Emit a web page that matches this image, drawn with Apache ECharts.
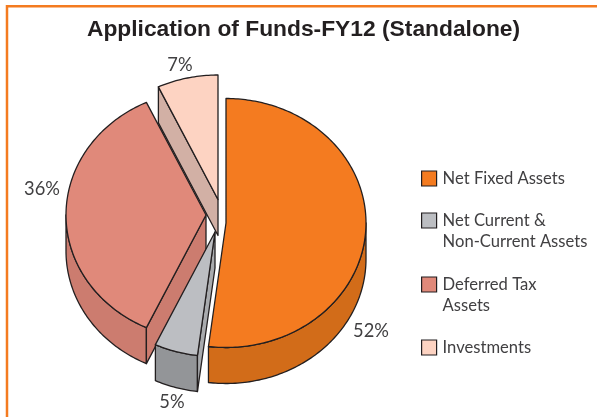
<!DOCTYPE html>
<html>
<head>
<meta charset="utf-8">
<style>html,body{margin:0;padding:0;background:#fff}#c{width:597px;height:417px}</style>
<script src="https://cdn.jsdelivr.net/npm/echarts@6/dist/echarts.min.js"></script>
</head>
<body>
<div id="c"></div>
<script>
const categories = ['Net Fixed Assets', 'Net Current &\nNon-Current Assets', 'Deferred Tax\nAssets', 'Investments'];
const shares = [52, 5, 36, 7];

const swatchTops = [171, 213, 277, 340];
const topColors = ['#f47b20', '#bcbec2', '#e0897a', '#fdd3c2'];
const wallColors = ['#d26c19', '#939598', '#cc7c6f', '#d2b0a5'];
const cutColors = ['#d26c19', '#a9abae', '#cc7c6f', '#d2b0a5'];
const apexes = [[226, 223], [215, 232], [206, 215], [218, 199.5]];
const labelSpots = [[371, 331], [172, 402], [42, 189], [180, 65]];
const drawOrder = [3, 2, 1, 0];
const RX = 140, RY = 124.5, DEPTH = 36, INK = '#231f20';
const LINE = 21, SWATCH = 15;

const total = shares.reduce((a, b) => a + b, 0);
const rad = d => d * Math.PI / 180;

function arcPoints(ax, ay, t0, t1, dy) {
  const pts = [];
  const n = Math.max(2, Math.ceil(Math.abs(t1 - t0)));
  for (let i = 0; i <= n; i++) {
    const t = rad(t0 + (t1 - t0) * i / n);
    pts.push([ax + RX * Math.sin(t), ay - RY * Math.cos(t) + dy]);
  }
  return pts;
}
function face(points, fill) {
  return {
    type: 'polygon',
    shape: { points },
    style: { fill, stroke: INK, lineWidth: 1.3, lineJoin: 'round' }
  };
}
function renderSlice(idx) {
  return function (params, api) {
    const value = api.value(0);
    let before = 0;
    for (let i = 0; i < idx; i++) before += shares[i];
    const t0 = before / total * 360;
    const t1 = t0 + value / total * 360;
    const [ax, ay] = apexes[idx];
    const children = [];

    // outer wall: only the front half of the rim faces the viewer
    const w0 = Math.max(t0, 90), w1 = Math.min(t1, 270);
    if (w1 > w0) {
      const upper = arcPoints(ax, ay, w0, w1, 0);
      const lower = arcPoints(ax, ay, w0, w1, DEPTH).reverse();
      children.push(face(upper.concat(lower), wallColors[idx]));
    }
    // cut faces that turn towards the viewer
    [[t0, Math.sin(rad(t0)) < -1e-6], [t1, Math.sin(rad(t1)) > 1e-6]].forEach(([t, show]) => {
      if (!show) return;
      const ex = ax + RX * Math.sin(rad(t)), ey = ay - RY * Math.cos(rad(t));
      children.push(face([[ax, ay], [ex, ey], [ex, ey + DEPTH], [ax, ay + DEPTH]], cutColors[idx]));
    });
    // top face
    children.push(face([[ax, ay]].concat(arcPoints(ax, ay, t0, t1, 0)), topColors[idx]));
    // percent label
    children.push({
      type: 'text',
      style: {
        x: labelSpots[idx][0], y: labelSpots[idx][1], text: value + '%',
        fill: '#414042', font: '18.3px Lato, "Open Sans", sans-serif',
        align: 'center', verticalAlign: 'middle'
      }
    });
    return { type: 'group', children };
  };
}

const chart = echarts.init(document.getElementById('c'), null, { renderer: 'canvas' });
chart.setOption({
  animation: false,
  backgroundColor: '#ffffff',
  title: {
    text: 'Application of Funds-FY12 (Standalone)',
    left: 303.5, top: 18, padding: 0, textAlign: 'center',
    textStyle: { fontFamily: '"Liberation Sans", Arial, sans-serif', fontWeight: 'bold', fontSize: 22.8, color: '#231f20' }
  },
  legend: categories.map((name, i) => {
    const multi = name.includes('\n');
    return {
      left: 421,
      // a two-line entry is centred on its swatch, so a blank first line puts the swatch beside line one
      top: swatchTops[i] - (multi ? (3 * LINE - SWATCH) / 2 : (LINE - SWATCH) / 2),
      data: [name],
      formatter: n => (multi ? '\n' + n : n),
      selectedMode: false,
      icon: 'rect',
      itemWidth: SWATCH, itemHeight: SWATCH, itemGap: 0,
      padding: 0,
      itemStyle: { borderColor: INK, borderWidth: 1.2 },
      textStyle: {
        fontFamily: 'Lato, "Open Sans", sans-serif', fontSize: 16.6, color: '#414042',
        lineHeight: LINE, padding: [0, 0, 0, 1]
      }
    };
  }),
  graphic: [
    { type: 'line', silent: true, shape: { x1: 6, y1: 6.2, x2: 597, y2: 6.2 }, style: { stroke: '#f47b20', lineWidth: 2.5 } },
    { type: 'line', silent: true, shape: { x1: 7, y1: 5, x2: 7, y2: 417 }, style: { stroke: '#f47b20', lineWidth: 2.5 } }
  ],
  series: drawOrder.map(i => ({
    type: 'custom',
    name: categories[i],
    coordinateSystem: 'none',
    silent: true,
    itemStyle: { color: topColors[i] },
    data: [[shares[i]]],
    renderItem: renderSlice(i)
  }))
});
</script>
</body>
</html>
